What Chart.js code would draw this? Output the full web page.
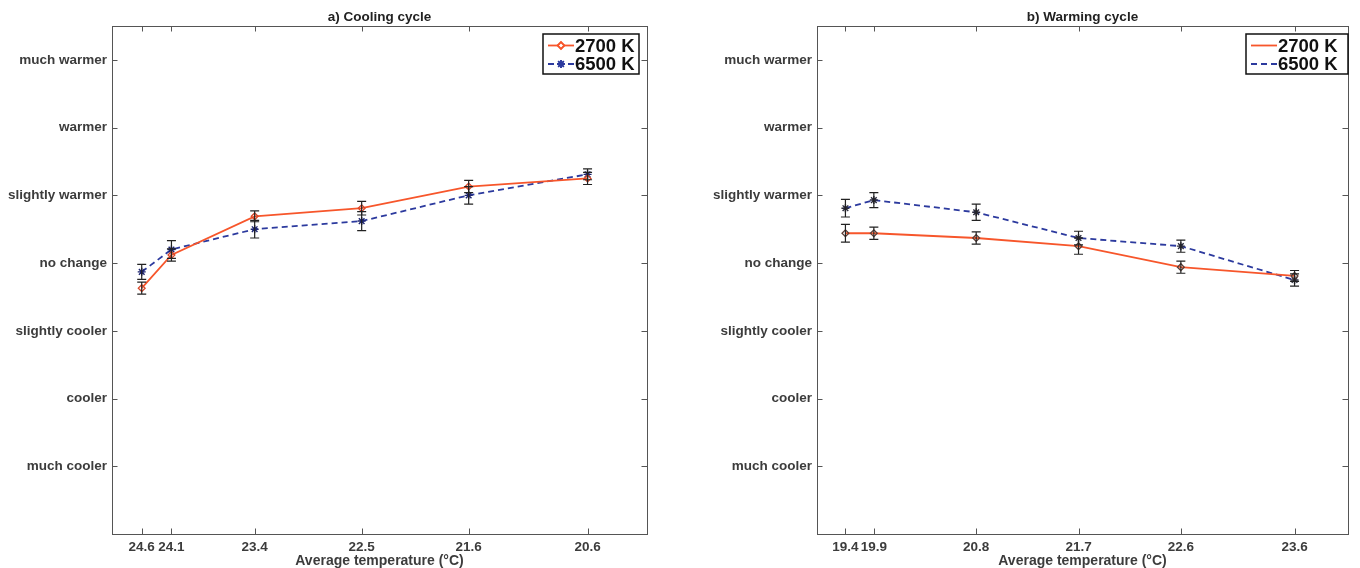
<!DOCTYPE html>
<html>
<head>
<meta charset="utf-8">
<script src="https://cdn.jsdelivr.net/npm/chart.js@4.4.1/dist/chart.umd.min.js"></script>
<style>
  html, body { margin: 0; padding: 0; background: #fff; }
  #wrap { position: relative; width: 1360px; height: 568px; }
  .pane { position: absolute; top: 0; width: 680px; height: 568px; }
</style>
</head>
<body>
<div id="wrap">
  <div class="pane" style="left:0"><canvas id="chartCool" width="680" height="568"></canvas></div>
  <div class="pane" style="left:680px"><canvas id="chartWarm" width="680" height="568"></canvas></div>
</div>
<script>
// ---- rating scale ----
const levelValues = [-3, -2, -1, 0, 1, 2, 3];
const levelLabels = ['much cooler', 'cooler', 'slightly cooler', 'no change', 'slightly warmer', 'warmer', 'much warmer'];

// ---- a) cooling cycle ----
const coolTemps = [24.35, 24.1, 23.4, 22.5, 21.6, 20.6];
const coolTickLabels = ['24.6', '24.1', '23.4', '22.5', '21.6', '20.6'];
const cool2700 = [-0.37, 0.12, 0.69, 0.81, 1.13, 1.25];
const cool2700Err = [0.09, 0.09, 0.08, 0.10, 0.09, 0.09];
const cool6500 = [-0.13, 0.20, 0.50, 0.62, 1.00, 1.31];
const cool6500Err = [0.11, 0.13, 0.13, 0.14, 0.13, 0.08];

// ---- b) warming cycle ----
const warmTemps = [19.65, 19.9, 20.8, 21.7, 22.6, 23.6];
const warmTickLabels = ['19.4', '19.9', '20.8', '21.7', '22.6', '23.6'];
const warm2700 = [0.44, 0.44, 0.37, 0.25, -0.06, -0.19];
const warm2700Err = [0.13, 0.09, 0.09, 0.12, 0.09, 0.08];
const warm6500 = [0.81, 0.93, 0.75, 0.37, 0.25, -0.25];
const warm6500Err = [0.13, 0.11, 0.12, 0.10, 0.09, 0.09];

const RED = '#f7562b';
const BLUE = '#2c3a9e';
const FONT = "'Liberation Sans', Arial, Helvetica, sans-serif";

Chart.defaults.font.family = FONT;
Chart.defaults.animation = false;

const toPts = (xs, ys) => xs.map((x, i) => ({ x: x, y: ys[i] }));

// frame, inward tick marks, title, error bars, legend
const matlabLook = {
    id: 'matlabLook',
    afterDatasetsDraw(chart, args, opts) {
        const ctx = chart.ctx;
        const xs = chart.scales.x, ys = chart.scales.y;

        // error bars
        ctx.save();
        ctx.strokeStyle = '#222';
        ctx.lineWidth = 1.2;
        chart.data.datasets.forEach(ds => {
            ds.data.forEach((p, i) => {
                const e = ds.errors[i];
                const px = xs.getPixelForValue(p.x);
                const y1 = ys.getPixelForValue(p.y - e);
                const y2 = ys.getPixelForValue(p.y + e);
                ctx.beginPath();
                ctx.moveTo(px, y1); ctx.lineTo(px, y2);
                ctx.moveTo(px - 4.5, y1); ctx.lineTo(px + 4.5, y1);
                ctx.moveTo(px - 4.5, y2); ctx.lineTo(px + 4.5, y2);
                ctx.stroke();
            });
        });
        ctx.restore();
    },
    afterDraw(chart, args, opts) {
        const ctx = chart.ctx;
        const { left, right, top, bottom } = chart.chartArea;
        const xs = chart.scales.x, ys = chart.scales.y;

        // frame + ticks
        ctx.save();
        ctx.strokeStyle = '#555';
        ctx.lineWidth = 1;
        ctx.strokeRect(Math.round(left) + 0.5, Math.round(top) + 0.5, Math.round(right - left), Math.round(bottom - top));
        ctx.beginPath();
        ys.ticks.forEach(t => {
            const y = Math.round(ys.getPixelForValue(t.value)) + 0.5;
            ctx.moveTo(left, y); ctx.lineTo(left + 5.5, y);
            ctx.moveTo(right, y); ctx.lineTo(right - 5.5, y);
        });
        xs.ticks.forEach(t => {
            const x = Math.round(xs.getPixelForValue(t.value)) + 0.5;
            ctx.moveTo(x, top); ctx.lineTo(x, top + 5.5);
            ctx.moveTo(x, bottom); ctx.lineTo(x, bottom - 5.5);
        });
        ctx.stroke();

        // title
        ctx.fillStyle = '#222';
        ctx.font = 'bold 13.5px ' + FONT;
        ctx.textAlign = 'center';
        ctx.textBaseline = 'middle';
        ctx.fillText(opts.title, (left + right) / 2, 17);

        // legend
        const lg = opts.legend;
        const bx = right - lg.rightGap - lg.width, by = 34;
        ctx.fillStyle = '#fff';
        ctx.fillRect(bx, by, lg.width, 40);
        ctx.strokeStyle = '#111';
        ctx.lineWidth = 1.5;
        ctx.strokeRect(bx, by, lg.width, 40);
        ctx.font = 'bold 18.5px ' + FONT;
        ctx.textAlign = 'left';
        chart.data.datasets.forEach((ds, i) => {
            const cy = by + 11.5 + i * 18.5;
            const x0 = bx + 5, x1 = bx + 31;
            ctx.strokeStyle = ds.borderColor;
            ctx.lineWidth = 1.8;
            ctx.setLineDash(ds.borderDash || []);
            ctx.beginPath(); ctx.moveTo(x0, cy); ctx.lineTo(x1, cy); ctx.stroke();
            ctx.setLineDash([]);
            if (lg.markers) {
                const mx = (x0 + x1) / 2;
                Chart.helpers.drawPoint(ctx, {
                    pointStyle: ds.pointStyle, radius: ds.pointRadius, borderWidth: 1.2, rotation: 0
                }, mx, cy);
                ctx.strokeStyle = ds.borderColor;
                ctx.lineWidth = 1.2;
                ctx.stroke();
            }
            ctx.fillStyle = '#111';
            ctx.fillText(ds.label, x1 + 1, cy + 1);
        });
        ctx.restore();
    }
};

function makeChart(id, cfg) {
    const tickText = v => cfg.tickLabels[cfg.temps.indexOf(v)];
    return new Chart(document.getElementById(id), {
        type: 'line',
        data: {
            datasets: [
                {
                    label: '2700 K', data: toPts(cfg.temps, cfg.s2700), errors: cfg.e2700,
                    borderColor: RED, borderWidth: 1.8,
                    pointStyle: 'rectRot', pointRadius: 3.4, pointBorderWidth: 1.3,
                    pointBorderColor: cfg.mark2700, pointBackgroundColor: 'rgba(0,0,0,0)'
                },
                {
                    label: '6500 K', data: toPts(cfg.temps, cfg.s6500), errors: cfg.e6500,
                    borderColor: BLUE, borderWidth: 1.8, borderDash: [6, 4],
                    pointStyle: 'star', pointRadius: 4, pointBorderWidth: 1.4,
                    pointBorderColor: cfg.mark6500, pointBackgroundColor: cfg.mark6500
                }
            ]
        },
        options: {
            responsive: false,
            animation: false,
            layout: { padding: { top: 26, right: cfg.padRight, left: 0, bottom: 0 } },
            plugins: {
                legend: { display: false },
                tooltip: { enabled: false },
                matlabLook: { title: cfg.title, legend: cfg.legend }
            },
            scales: {
                x: {
                    type: 'linear', reverse: cfg.reverse, min: cfg.xmin, max: cfg.xmax,
                    grid: { display: false, drawTicks: false }, border: { display: false },
                    afterBuildTicks: s => { s.ticks = cfg.temps.map(v => ({ value: v })); },
                    afterFit: s => { s.height = 34; },
                    ticks: {
                        autoSkip: false, maxRotation: 0, padding: 5, color: '#3c3c3c',
                        font: { size: 13.5, weight: 'bold' },
                        callback: v => tickText(v)
                    },
                    title: {
                        display: true, text: 'Average temperature (°C)', color: '#3c3c3c',
                        font: { size: 14, weight: 'bold', lineHeight: 1.05 }, padding: 0
                    }
                },
                y: {
                    type: 'linear', min: -4, max: 3.5,
                    grid: { display: false, drawTicks: false }, border: { display: false },
                    afterBuildTicks: s => { s.ticks = levelValues.map(v => ({ value: v })); },
                    afterFit: s => { s.width = cfg.yWidth; },
                    ticks: {
                        autoSkip: false, padding: 5, color: '#3c3c3c',
                        font: { size: 13.5, weight: 'bold' },
                        callback: v => levelLabels[levelValues.indexOf(v)]
                    }
                }
            }
        },
        plugins: [matlabLook]
    });
}

makeChart('chartCool', {
    title: 'a) Cooling cycle', temps: coolTemps, tickLabels: coolTickLabels,
    s2700: cool2700, e2700: cool2700Err, s6500: cool6500, e6500: cool6500Err,
    reverse: true, xmin: 20.1, xmax: 24.6, yWidth: 112, padRight: 33,
    mark2700: '#d8482a', mark6500: '#1c2470',
    legend: { width: 96, rightGap: 8, markers: true }
});

makeChart('chartWarm', {
    title: 'b) Warming cycle', temps: warmTemps, tickLabels: warmTickLabels,
    s2700: warm2700, e2700: warm2700Err, s6500: warm6500, e6500: warm6500Err,
    reverse: false, xmin: 19.4, xmax: 24.07, yWidth: 137, padRight: 12,
    mark2700: '#5a3d35', mark6500: '#2a2a3a',
    legend: { width: 102, rightGap: 0, markers: false }
});
</script>
</body>
</html>
